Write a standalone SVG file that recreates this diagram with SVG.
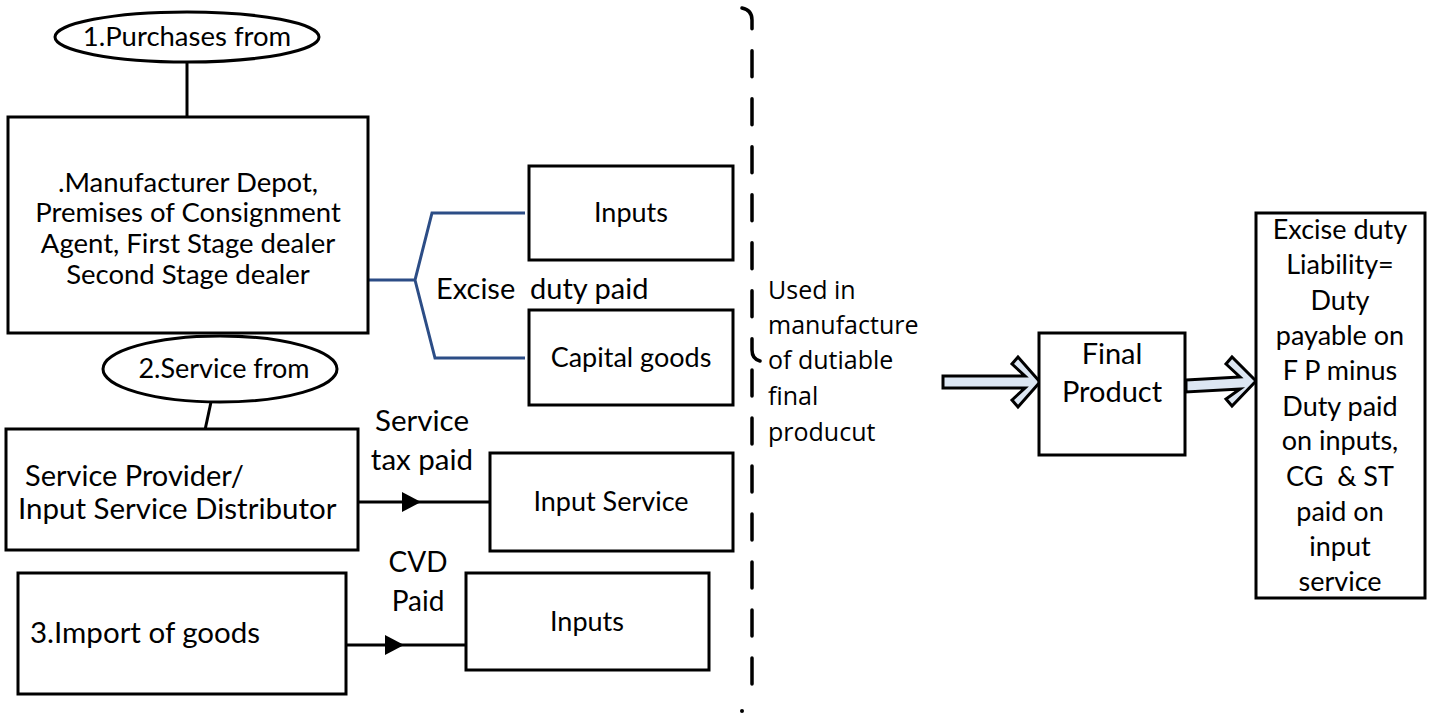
<svg xmlns="http://www.w3.org/2000/svg" width="1431" height="713" viewBox="0 0 1431 713">
<style>
.box{fill:#fff;stroke:#000;stroke-width:3}
.t{font-family:Lato,"Liberation Sans",sans-serif;font-size:27px;fill:#000;text-anchor:middle;white-space:pre}
.s{text-anchor:start}
.u{font-family:"Open Sans","Liberation Sans",sans-serif;font-size:25px;fill:#000}
.ln{fill:none;stroke:#000;stroke-width:3}
.bl{fill:none;stroke:#2c4d86;stroke-width:3}
.blk{fill:#dce6f2;stroke:#000;stroke-width:3;stroke-linejoin:miter}
.ah{fill:#000}
.dsh{fill:none;stroke:#000;stroke-width:3.5;stroke-linecap:round;stroke-dasharray:26 22}
</style>
<g id="connectors">
<line class="ln" x1="187" y1="62" x2="187" y2="117"/>
<path class="bl" d="M368,280 H415 L432,213 H525 M415,280 L435,358 H525"/>
<line class="ln" x1="211" y1="402" x2="205" y2="430"/>
<line class="ln" x1="358" y1="502" x2="490" y2="502"/>
<path class="ah" d="M402,492 L421,502 L402,512 Z"/>
<line class="ln" x1="346" y1="645" x2="466" y2="645"/>
<path class="ah" d="M385,635 L404,645 L385,655 Z"/>
<path class="dsh" d="M742,8 Q752,10 752,20 V350 Q752,359 760,361"/>
<path class="dsh" d="M752,370 V693"/>
<circle cx="742" cy="711" r="2" fill="#000"/>
<path class="blk" d="M943,376 H1025 L1012,364 L1018,357 L1040,382 L1018,407 L1012,400 L1025,388 H943 Z"/>
<path class="blk" d="M1186,380 L1240,377 L1226,364 L1232,357 L1256,381 L1232,406 L1226,399 L1240,389 L1186,392 Z"/>
</g>
<g id="n1">
<ellipse class="box" cx="187" cy="37" rx="132" ry="25"/>
<text class="t" x="187" y="46" style="font-size:27.5px">1.Purchases from</text>
</g>
<g id="n2">
<rect class="box" x="8" y="117" width="360" height="216"/>
<text class="t" x="188" y="192" style="font-size:27.5px">.Manufacturer Depot,</text>
<text class="t" x="188" y="222" style="font-size:27.5px">Premises of Consignment</text>
<text class="t" x="188" y="253" style="font-size:27.5px">Agent, First Stage dealer</text>
<text class="t" x="188" y="284" style="font-size:27.5px">Second Stage dealer</text>
</g>
<g id="n3">
<rect class="box" x="529" y="166" width="204" height="94"/>
<text class="t" x="631" y="222">Inputs</text>
</g>
<g id="n4">
<rect class="box" x="529" y="310" width="204" height="95"/>
<text class="t" x="631" y="367">Capital goods</text>
</g>
<text class="t s" x="436" y="299" style="font-size:29px">Excise  duty paid</text>
<g id="n5">
<ellipse class="box" cx="220" cy="369" rx="117" ry="33"/>
<text class="t" x="224" y="378">2.Service from</text>
</g>
<g id="n6">
<rect class="box" x="6" y="429" width="352" height="121"/>
<text class="t s" x="25" y="486" style="font-size:29px">Service Provider/</text>
<text class="t s" x="18" y="519" style="font-size:29.5px">Input Service Distributor</text>
</g>
<text class="t" x="422" y="431" style="font-size:29.5px">Service</text>
<text class="t" x="422" y="470" style="font-size:29.5px">tax paid</text>
<g id="n7">
<rect class="box" x="490" y="453" width="243" height="98"/>
<text class="t" x="611" y="511">Input Service</text>
</g>
<text class="t" x="418" y="572" style="font-size:28px">CVD</text>
<text class="t" x="418" y="611" style="font-size:28px">Paid</text>
<g id="n8">
<rect class="box" x="18" y="573" width="328" height="121"/>
<text class="t s" x="30" y="643" style="font-size:29.5px">3.Import of goods</text>
</g>
<g id="n9">
<rect class="box" x="466" y="573" width="243" height="97"/>
<text class="t" x="587" y="631">Inputs</text>
</g>
<text class="u" x="768" y="299">Used in</text>
<text class="u" x="768" y="334">manufacture</text>
<text class="u" x="768" y="369">of dutiable</text>
<text class="u" x="768" y="405">final</text>
<text class="u" x="768" y="441">producut</text>
<g id="n10">
<rect class="box" x="1039" y="333" width="146" height="122"/>
<text class="t" x="1112" y="364" style="font-size:29px">Final</text>
<text class="t" x="1112" y="402" style="font-size:29px">Product</text>
</g>
<g id="n11">
<rect class="box" x="1256" y="213" width="169" height="385"/>
<text class="t" x="1340" y="239">Excise duty</text>
<text class="t" x="1340" y="274">Liability=</text>
<text class="t" x="1340" y="310">Duty</text>
<text class="t" x="1340" y="345">payable on</text>
<text class="t" x="1340" y="380">F P minus</text>
<text class="t" x="1340" y="416">Duty paid</text>
<text class="t" x="1340" y="450">on inputs,</text>
<text class="t" x="1340" y="486">CG  &amp; ST</text>
<text class="t" x="1340" y="521">paid on</text>
<text class="t" x="1340" y="556">input</text>
<text class="t" x="1340" y="591">service</text>
</g>
</svg>
